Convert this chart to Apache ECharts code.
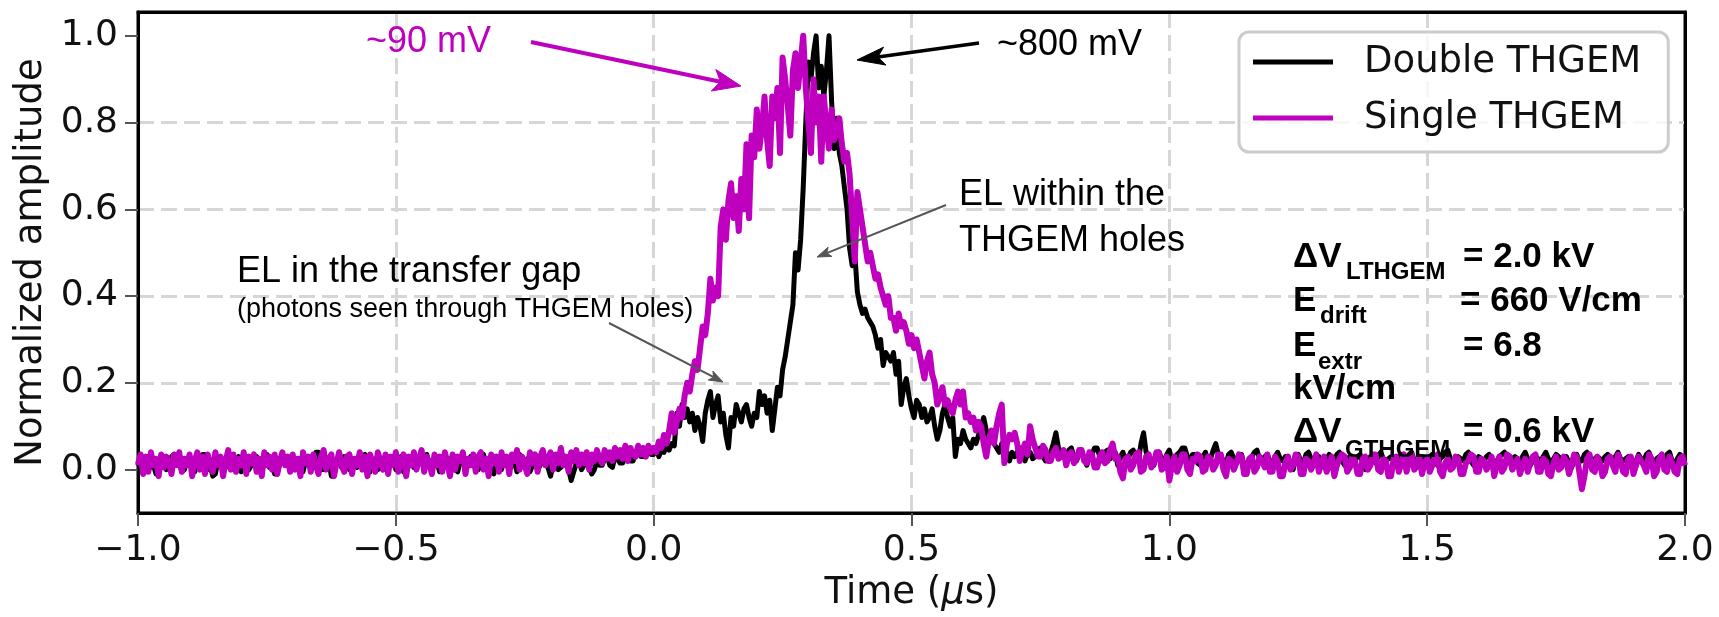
<!DOCTYPE html>
<html>
<head>
<meta charset="utf-8">
<script src="https://cdn.jsdelivr.net/npm/echarts@6/dist/echarts.min.js"></script>
<style>
html,body{margin:0;padding:0;background:#fff;}
#chart{width:1719px;height:617px;}
</style>
</head>
<body>
<div id="chart"></div>
<script>
// ---- sampling grid (oscilloscope sample times, µs) ----
const timeSegments = [
  {start: -1.0, step: 0.005, count: 200},
  {start: 0.0, step: 0.005, count: 140},
  {start: 0.70, step: 0.005, count: 261}
];

// ---- Single THGEM (magenta) normalized amplitude ----
const singleValues = [
  // -1.000 .. -0.005
  0.01,0.035,-0.01,0.03,-0.005,0.04,0.01,0.025,-0.015,0.035,0.005,0.03,0.015,-0.01,0.035,0.01,0.04,-0.005,0.025,0.01,
  0.035,-0.015,0.02,0.04,0.0,0.03,-0.01,0.035,0.015,-0.005,0.04,0.01,0.03,-0.015,0.02,0.045,0.0,0.035,-0.005,0.025,
  0.01,0.04,-0.01,0.03,0.015,0.035,-0.005,0.025,-0.015,0.04,0.01,0.03,0.0,0.035,-0.01,0.02,0.04,0.01,0.03,-0.005,
  0.035,0.0,0.025,-0.015,0.04,0.015,0.03,-0.005,0.035,0.01,-0.01,0.03,0.045,0.0,0.025,0.035,-0.015,0.015,0.04,0.01,
  -0.005,0.03,0.035,-0.01,0.025,0.01,0.04,0.0,0.03,-0.015,0.035,0.015,-0.005,0.04,0.02,0.0,0.035,-0.01,0.03,0.01,
  0.04,-0.005,0.02,0.035,-0.015,0.03,0.01,0.04,0.0,0.025,0.045,-0.005,0.03,0.015,-0.01,0.035,0.01,0.03,-0.005,0.04,
  0.015,-0.015,0.035,0.0,0.03,0.02,0.04,-0.01,0.025,0.01,0.035,-0.005,0.03,0.04,0.0,0.025,-0.015,0.035,0.015,0.03,
  -0.005,0.04,0.01,0.03,-0.01,0.035,0.02,0.045,0.0,0.03,0.01,-0.01,0.04,0.015,0.035,-0.005,0.03,0.045,0.01,0.025,
  0.04,0.0,0.035,0.015,0.05,0.01,0.03,-0.005,0.04,0.02,0.045,0.01,0.035,0.015,0.04,0.0,0.035,0.02,0.045,0.025,
  0.015,0.045,0.025,0.04,0.02,0.05,0.03,0.045,0.025,0.055,0.02,0.05,0.035,0.03,0.055,0.035,0.05,0.03,0.055,0.04,
  // 0.000 .. 0.695
  0.05,0.04,0.065,0.05,0.08,0.06,0.09,0.13,0.085,0.11,
  0.14,0.12,0.17,0.2,0.18,0.22,0.25,0.23,0.28,0.33,
  0.31,0.36,0.44,0.39,0.42,0.40,0.56,0.60,0.53,0.62,
  0.66,0.58,0.63,0.55,0.67,0.60,0.75,0.58,0.77,0.72,
  0.83,0.74,0.79,0.86,0.76,0.70,0.86,0.81,0.88,0.73,
  0.95,0.90,0.84,0.77,0.92,0.96,0.88,0.94,1.00,0.88,
  0.80,0.73,0.90,0.80,0.86,0.71,0.86,0.79,0.74,0.83,
  0.76,0.78,0.81,0.75,0.71,0.73,0.68,0.58,0.48,0.64,
  0.60,0.56,0.52,0.48,0.50,0.47,0.44,0.45,0.42,0.40,
  0.38,0.40,0.35,0.35,0.32,0.36,0.33,0.34,0.32,0.29,
  0.31,0.28,0.30,0.27,0.24,0.21,0.25,0.27,0.22,0.20,
  0.15,0.17,0.19,0.15,0.16,0.14,0.13,0.16,0.18,0.15,
  0.18,0.12,0.13,0.11,0.12,0.09,0.11,0.10,0.06,0.03,
  0.07,0.09,0.06,0.10,0.13,0.15,0.015,0.06,0.08,0.07,
  // 0.700 .. 2.000
  0.085,0.06,0.02,0.045,0.06,0.035,0.10,0.07,0.05,0.03,0.03,0.055,0.045,0.02,0.02,0.04,0.05,0.025,0.03,0.045,
  0.01,0.035,0.04,0.015,0.025,0.045,0.045,0.02,0.015,0.04,0.035,0.005,0.005,0.03,0.04,0.015,0.02,0.045,0.06,0.025,
  0.03,-0.005,-0.02,0.025,0.03,0.0,0.01,0.035,0.04,-0.005,0.0,0.03,0.035,0.005,0.015,0.04,0.04,0.0,0.005,0.03,
  -0.025,0.01,0.03,-0.005,0.01,0.035,0.035,0.0,-0.01,0.025,0.02,0.035,0.03,-0.005,0.0,0.03,0.025,0.0,0.01,0.035,
  0.035,0.0,-0.015,0.025,0.02,0.0,0.015,0.035,0.03,-0.01,-0.01,0.025,0.03,-0.005,0.005,0.03,0.02,0.005,0.035,-0.005,
  -0.005,0.03,0.02,-0.015,-0.015,0.015,0.03,0.0,0.01,0.035,0.03,-0.01,-0.01,0.025,0.02,0.0,0.015,0.035,-0.005,0.015,
  0.03,-0.005,0.01,0.03,-0.015,0.01,0.025,0.035,0.03,-0.005,0.005,0.03,0.02,-0.01,-0.01,0.025,0.03,0.0,0.01,0.035,
  0.035,0.0,-0.005,0.025,0.02,-0.015,-0.015,0.025,0.03,-0.005,0.015,0.035,-0.005,0.02,0.035,0.0,0.01,0.03,-0.01,0.015,
  0.025,-0.005,0.01,0.03,0.035,-0.005,-0.015,0.015,0.025,0.0,0.005,0.03,0.025,-0.01,-0.01,0.015,0.02,0.035,0.03,-0.005,
  -0.005,0.025,0.02,0.0,0.01,0.03,-0.015,0.01,0.03,-0.005,0.005,0.035,0.03,0.0,0.01,0.025,-0.01,0.01,0.025,-0.005,
  0.015,0.03,0.035,-0.005,-0.005,0.025,0.02,-0.01,-0.015,0.015,0.03,0.0,0.005,0.03,0.02,-0.01,0.01,0.035,0.03,-0.005,
  -0.045,-0.015,0.025,0.035,0.0,-0.005,0.03,0.015,-0.015,-0.005,0.025,0.03,0.01,-0.005,0.035,0.02,-0.005,-0.01,0.025,0.03,
  -0.01,0.01,0.03,0.02,0.01,-0.005,0.035,0.025,-0.015,-0.005,0.025,0.035,0.0,-0.005,0.03,0.015,-0.005,-0.01,0.025,0.03,
  0.01
];

// ---- Double THGEM (black) normalized amplitude ----
const doubleValues = [
  // -1.000 .. -0.005
  0.02,-0.005,0.0,0.03,0.03,0.005,0.01,-0.01,-0.01,0.02,0.025,0.0,0.005,0.03,0.035,0.01,0.015,-0.005,0.0,0.025,
  0.03,0.01,-0.005,0.015,0.02,0.035,0.035,0.0,0.01,-0.015,-0.01,0.02,0.025,0.0,0.005,0.025,0.03,0.005,0.015,0.03,
  -0.005,0.015,0.025,0.0,0.01,0.025,0.03,0.0,0.0,0.035,0.035,0.005,0.015,-0.01,-0.01,0.015,0.02,0.03,0.03,0.0,
  0.005,0.02,0.025,-0.005,-0.005,0.02,0.03,0.01,0.015,0.04,0.04,0.0,0.0,0.015,0.02,-0.015,-0.015,0.02,0.025,0.005,
  0.03,0.01,0.0,0.025,0.02,0.005,0.01,0.03,0.035,0.0,-0.005,0.02,0.025,0.0,0.005,0.025,0.03,0.005,0.015,0.03,
  0.0,0.02,0.03,-0.005,-0.01,0.015,0.02,0.005,0.01,0.03,0.025,0.0,0.035,0.01,0.0,0.02,0.015,-0.005,0.03,0.01,
  0.005,0.025,0.02,0.0,-0.005,0.02,0.03,0.005,0.01,0.03,0.025,0.0,0.0,0.025,0.035,0.005,0.015,-0.005,-0.01,0.02,
  0.02,0.0,0.03,0.015,0.0,0.02,0.015,-0.005,0.035,0.01,0.005,0.025,-0.005,0.01,0.02,0.0,0.01,0.025,0.03,0.005,
  -0.015,0.01,0.02,0.0,0.005,0.025,0.03,0.0,-0.025,-0.005,0.015,0.02,0.0,0.01,0.025,0.005,-0.01,0.0,0.02,0.01,
  0.01,0.025,0.03,0.01,0.005,0.03,0.025,0.015,0.015,0.035,0.04,0.02,0.02,0.04,0.05,0.03,0.03,0.045,0.04,0.035,
  // 0.000 .. 0.695
  0.035,0.05,0.03,0.045,0.04,0.055,0.045,0.06,0.055,0.13,
  0.10,0.15,0.12,0.14,0.11,0.13,0.09,0.12,0.10,0.065,
  0.13,0.16,0.18,0.12,0.15,0.17,0.11,0.13,0.08,0.05,
  0.12,0.10,0.15,0.13,0.11,0.14,0.15,0.12,0.10,0.13,
  0.12,0.18,0.15,0.17,0.13,0.16,0.09,0.14,0.19,0.17,
  0.23,0.26,0.30,0.34,0.38,0.50,0.46,0.53,0.65,0.80,
  0.94,0.90,0.96,1.00,0.88,0.93,0.86,0.92,1.00,0.85,
  0.74,0.81,0.73,0.70,0.65,0.60,0.51,0.47,0.50,0.41,
  0.38,0.36,0.37,0.35,0.34,0.33,0.31,0.28,0.30,0.24,
  0.27,0.26,0.25,0.27,0.22,0.25,0.15,0.19,0.21,0.17,
  0.14,0.12,0.16,0.15,0.12,0.14,0.11,0.12,0.14,0.10,
  0.07,0.09,0.13,0.15,0.12,0.10,0.12,0.03,0.07,0.06,
  0.09,0.07,0.06,0.05,0.07,0.06,0.08,0.10,0.12,0.09,
  0.07,0.08,0.06,0.05,0.04,0.06,0.05,0.04,0.02,0.04,
  // 0.700 .. 2.000
  0.03,0.04,0.05,0.03,0.02,0.035,0.04,0.025,0.03,0.045,0.05,0.03,0.02,0.035,0.04,0.06,0.085,0.05,0.04,0.03,
  0.03,0.045,0.05,0.03,0.02,0.035,0.04,0.025,0.01,0.03,0.035,0.05,0.05,0.03,0.02,0.04,0.045,0.025,0.03,0.04,
  0.01,0.03,0.04,0.02,0.025,0.04,0.045,0.03,0.02,0.06,0.085,0.04,0.03,0.015,0.01,0.035,0.04,0.025,0.02,0.035,
  0.045,0.02,0.015,0.035,0.04,0.05,0.05,0.03,0.02,0.035,0.035,0.015,0.01,0.03,0.04,0.02,0.025,0.045,0.06,0.035,
  0.03,0.02,0.015,0.035,0.04,0.025,0.02,0.035,0.035,0.01,0.005,0.025,0.03,0.04,0.045,0.025,0.02,0.03,0.035,0.02,
  0.01,0.03,0.04,0.025,0.02,0.03,0.03,0.005,0.0,0.025,0.035,0.02,0.015,0.035,0.04,0.025,0.02,0.03,0.03,0.01,
  0.005,0.025,0.035,0.025,0.02,0.035,0.04,0.02,0.01,0.025,0.03,0.025,0.02,0.03,0.035,0.015,0.0,0.02,0.03,0.02,
  0.015,0.03,0.04,0.025,0.02,0.025,0.03,0.02,0.01,0.03,0.035,0.025,0.02,0.035,0.04,0.02,0.005,0.015,0.03,0.025,
  0.02,0.03,0.035,0.02,0.01,0.025,0.03,0.04,0.045,0.025,0.015,0.02,0.03,0.025,0.02,0.035,0.04,0.02,0.01,0.02,
  0.03,0.025,0.02,0.03,0.035,0.015,0.005,0.02,0.03,0.035,0.04,0.025,0.015,0.025,0.03,0.025,0.02,0.03,0.04,0.025,
  0.01,0.02,0.03,0.025,0.02,0.03,0.04,0.025,0.015,0.025,0.035,0.03,0.02,0.025,0.03,0.015,0.005,0.02,0.035,0.02,
  0.02,0.035,0.04,0.02,0.01,0.025,0.03,0.025,0.02,0.03,0.035,0.025,0.015,0.03,0.04,0.025,0.02,0.025,0.03,0.02,
  0.005,0.02,0.035,0.025,0.02,0.035,0.04,0.025,0.015,0.025,0.03,0.025,0.02,0.035,0.04,0.02,0.01,0.025,0.035,0.03,
  0.03
];

// ---- axes ticks ----
const xTicks = [-1.0, -0.5, 0.0, 0.5, 1.0, 1.5, 2.0];
const yTicks = [0.0, 0.2, 0.4, 0.6, 0.8, 1.0];
const seriesNames = ['Double THGEM', 'Single THGEM'];

// build time grid
const times = [];
timeSegments.forEach(s => {
  for (let i = 0; i < s.count; i++) times.push(+(s.start + i * s.step).toFixed(4));
});
const pairs = vals => vals.map((v, i) => [times[i], v]);

const FS = '"DejaVu Sans", sans-serif';
const AR = '"Liberation Sans", Arial, sans-serif';
const fmt = v => (v < 0 ? '\u2212' : '') + Math.abs(v).toFixed(1);

function arrow(x1, y1, x2, y2, color, lw, hl, hw) {
  const dx = x2 - x1, dy = y2 - y1, L = Math.hypot(dx, dy);
  const ux = dx / L, uy = dy / L, px = -uy, py = ux;
  const bx = x2 - ux * hl, by = y2 - uy * hl;
  const nx = bx + ux * hl * 0.25, ny = by + uy * hl * 0.25;
  return [
    {type: 'line', z: 100, shape: {x1: x1, y1: y1, x2: nx, y2: ny}, style: {stroke: color, lineWidth: lw}},
    {type: 'polygon', z: 100, shape: {points: [[x2, y2], [bx + px * hw / 2, by + py * hw / 2], [nx, ny], [bx - px * hw / 2, by - py * hw / 2]]},
     style: {fill: color, stroke: color, lineWidth: 1}}
  ];
}
function txt(x, y, text, font, color) {
  return {type: 'text', z: 100, x: x, y: y,
    style: {text: text, font: font, fill: color || '#000', align: 'left', verticalAlign: 'middle'}};
}

const chart = echarts.init(document.getElementById('chart'), null, {renderer: 'canvas'});
const graphics = [].concat(
  [txt(366, 42, '~90 mV', '36px ' + AR, '#bf00bf')],
  arrow(531, 42, 741, 86, '#bf00bf', 4, 28, 22),
  [txt(997, 45, '~800 mV', '36px ' + AR, '#000')],
  arrow(979, 43, 857, 60, '#000', 3.5, 28, 18),
  [txt(959, 195, 'EL within the', '36px ' + AR), txt(959, 241, 'THGEM holes', '36px ' + AR)],
  arrow(946, 205, 817, 257, '#555', 2, 14, 10),
  [txt(237, 272, 'EL in the transfer gap', '36px ' + AR), txt(237, 310, '(photons seen through THGEM holes)', '27px ' + AR)],
  arrow(609, 323, 723, 382, '#555', 2, 14, 10),
  [
    txt(1293, 257, '\u0394V', 'bold 35px ' + AR), txt(1346, 272, 'LTHGEM', 'bold 24px ' + AR), txt(1463, 257, '= 2.0 kV', 'bold 35px ' + AR),
    txt(1293, 301, 'E', 'bold 35px ' + AR), txt(1320, 316, 'drift', 'bold 24px ' + AR), txt(1460, 301, '= 660 V/cm', 'bold 35px ' + AR),
    txt(1293, 346, 'E', 'bold 35px ' + AR), txt(1318, 362, 'extr', 'bold 24px ' + AR), txt(1463, 346, '= 6.8', 'bold 35px ' + AR),
    txt(1293, 389, 'kV/cm', 'bold 35px ' + AR),
    txt(1293, 432, '\u0394V', 'bold 35px ' + AR), txt(1345, 450, 'GTHGEM', 'bold 24px ' + AR), txt(1463, 432, '= 0.6 kV', 'bold 35px ' + AR)
  ]
);

const gridLine = {type: [16, 7], color: '#d6d6d6', width: 3};
chart.setOption({
  animation: false,
  backgroundColor: '#fff',
  grid: {left: 138, right: 34, top: 12, bottom: 102, show: true, borderColor: '#000', borderWidth: 3, backgroundColor: 'transparent'},
  legend: {
    orient: 'vertical', left: 1239, top: 32,
    data: seriesNames,
    icon: 'rect', itemWidth: 80, itemHeight: 5, itemGap: 12,
    padding: [8, 27, 12, 14],
    borderColor: '#cccccc', borderWidth: 3, borderRadius: 10,
    backgroundColor: 'rgba(255,255,255,0.8)',
    textStyle: {fontFamily: FS, fontSize: 37, color: '#111', lineHeight: 44, padding: [0, 0, 0, 26]}
  },
  xAxis: [{
    type: 'value', min: -1.0, max: 2.0, interval: 0.5,
    name: '{n|Time (}{i|\u03bc}{n|s)}', nameLocation: 'middle', nameGap: 62,
    nameTextStyle: {rich: {
      n: {fontFamily: FS, fontSize: 37, color: '#111'},
      i: {fontFamily: FS, fontSize: 37, color: '#111', fontStyle: 'italic'}
    }},
    axisLine: {show: true, onZero: false, lineStyle: {color: '#000', width: 3}},
    axisTick: {show: true, inside: false, length: 13, lineStyle: {color: '#555', width: 2}, customValues: xTicks},
    axisLabel: {customValues: xTicks, formatter: fmt, fontFamily: FS, fontSize: 36, color: '#111', margin: 20},
    splitLine: {show: true, showMinLine: false, showMaxLine: false, lineStyle: gridLine}
  }, {
    type: 'value', position: 'top', min: -1.0, max: 2.0,
    axisLine: {show: true, onZero: false, lineStyle: {color: '#000', width: 3}},
    axisTick: {show: false}, axisLabel: {show: false}, splitLine: {show: false}
  }],
  yAxis: [{
    type: 'value', min: -0.1, max: 1.055,
    name: 'Normalized amplitude', nameLocation: 'middle', nameGap: 85,
    nameTextStyle: {fontFamily: FS, fontSize: 37, color: '#111'},
    axisLine: {show: true, onZero: false, lineStyle: {color: '#000', width: 3}},
    axisTick: {show: true, inside: false, length: 13, lineStyle: {color: '#555', width: 2}, customValues: yTicks},
    axisLabel: {customValues: yTicks, formatter: fmt, fontFamily: FS, fontSize: 36, color: '#111', margin: 20},
    splitLine: {show: true, showMinLine: false, showMaxLine: false, lineStyle: gridLine}
  }, {
    type: 'value', position: 'right', min: -0.1, max: 1.055,
    axisLine: {show: true, onZero: false, lineStyle: {color: '#000', width: 3}},
    axisTick: {show: false}, axisLabel: {show: false}, splitLine: {show: false}
  }],
  series: [
    {name: seriesNames[0], type: 'line', data: pairs(doubleValues), showSymbol: false, symbol: 'none',
     sampling: 'none', color: '#000', lineStyle: {color: '#000', width: 5, join: 'round'}, z: 2},
    {name: seriesNames[1], type: 'line', data: pairs(singleValues), showSymbol: false, symbol: 'none',
     sampling: 'none', color: '#bf00bf', lineStyle: {color: '#bf00bf', width: 6, join: 'round'}, z: 3}
  ],
  graphic: graphics
});
</script>
</body>
</html>
